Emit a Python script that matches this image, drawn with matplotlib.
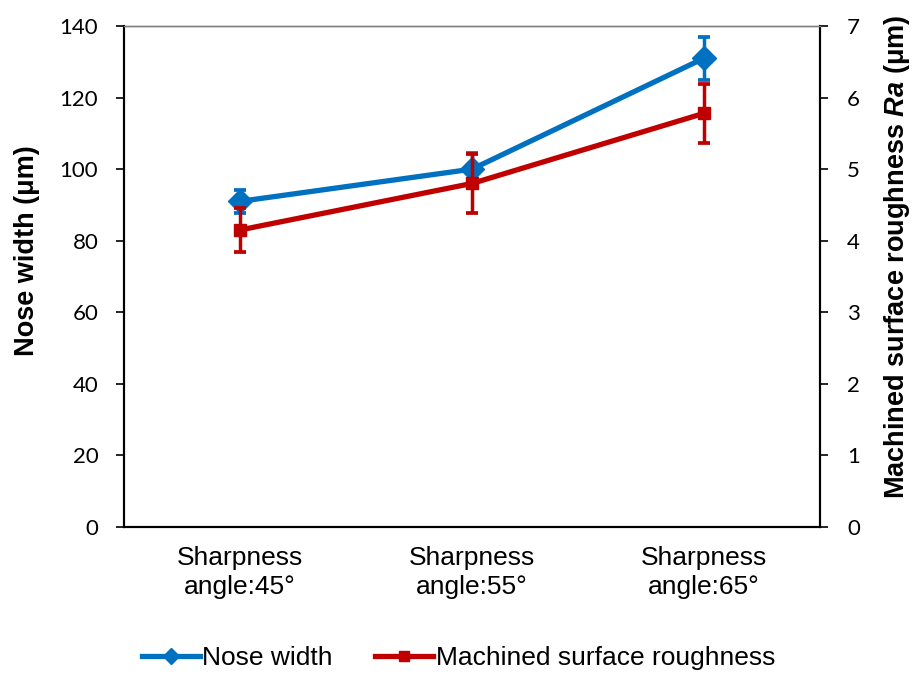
import matplotlib
matplotlib.use("Agg")
import matplotlib.pyplot as plt
from matplotlib.lines import Line2D
import numpy as np

categories = ["Sharpness\nangle:45°", "Sharpness\nangle:55°", "Sharpness\nangle:65°"]
nose_width = [91, 100, 131]
nose_err = [3.3, 4.5, 6.0]
roughness = [4.15, 4.8, 5.78]
rough_err = [0.31, 0.41, 0.41]
left_ticks = [0, 20, 40, 60, 80, 100, 120, 140]
right_ticks = [0, 1, 2, 3, 4, 5, 6, 7]

plt.rcParams['font.family'] = ['Liberation Sans', 'DejaVu Sans']
plt.rcParams['mathtext.fontset'] = 'custom'
plt.rcParams['mathtext.bfit'] = 'Liberation Sans:italic:bold'
plt.rcParams['mathtext.it'] = 'Liberation Sans:italic'
plt.rcParams['mathtext.bf'] = 'Liberation Sans:bold'
plt.rcParams['mathtext.rm'] = 'Liberation Sans'

blue = '#0070C0'
red = '#C00000'

fig = plt.figure(figsize=(9.17, 6.77), dpi=100)
ax = fig.add_axes([124/917, 1-527/677, (820-124)/917, (527-26)/677])
ax2 = ax.twinx()

x = np.arange(len(categories))
ax.errorbar(x, nose_width, yerr=nose_err, color=blue, lw=3.8, marker='D', ms=12,
            capsize=4.3, capthick=2.7, elinewidth=2.5, zorder=3)
ax2.errorbar(x, roughness, yerr=rough_err, color=red, lw=3.8, marker='s', ms=8.5,
             capsize=4.3, capthick=2.7, elinewidth=2.5, zorder=3)

ax.set_xlim(-0.5, 2.5)
ax.set_ylim(0, 140)
ax2.set_ylim(0, 7)
ax.set_yticks(left_ticks)
ax2.set_yticks(right_ticks)
ax.set_xticks(x)
ax.set_xticklabels(categories, fontsize=19, linespacing=1.25)
ax.tick_params(axis='x', length=0, pad=14)
ax.tick_params(axis='y', labelsize=16, length=5.5, width=1.2, direction='out', pad=13)
ax2.tick_params(axis='y', labelsize=16, length=5.5, width=1.2, direction='out', pad=14)
for lbl in ax.get_yticklabels() + ax2.get_yticklabels():
    lbl.set_fontfamily(['Lato', 'DejaVu Sans'])

for a in (ax, ax2):
    a.spines['top'].set_color('#808080')
    a.spines['top'].set_linewidth(1.0)
    a.spines['left'].set_linewidth(1.5)
    a.spines['right'].set_linewidth(1.5)
    a.spines['bottom'].set_linewidth(1.5)

ax.set_ylabel('Nose width (μm)', fontsize=19.5, fontweight='bold', labelpad=14)
ax2.set_ylabel('Machined surface roughness $\\mathbfit{Ra}$ (μm)', fontsize=19.5,
               fontweight='bold', labelpad=16)
ax.yaxis.label.set_y(0.551)
ax2.yaxis.label.set_y(0.539)

handles = [Line2D([], [], color=blue, lw=3.8, marker='D', ms=8),
           Line2D([], [], color=red, lw=3.8, marker='s', ms=7)]
labels = ['Nose width', 'Machined surface roughness']
fig.legend(handles, labels, loc='center', bbox_to_anchor=(0.5, 1-658/677), ncol=2,
           frameon=False, fontsize=19, handlelength=2.2, handletextpad=0.1,
           columnspacing=1.6)

fig.savefig('out.png', dpi=100)
